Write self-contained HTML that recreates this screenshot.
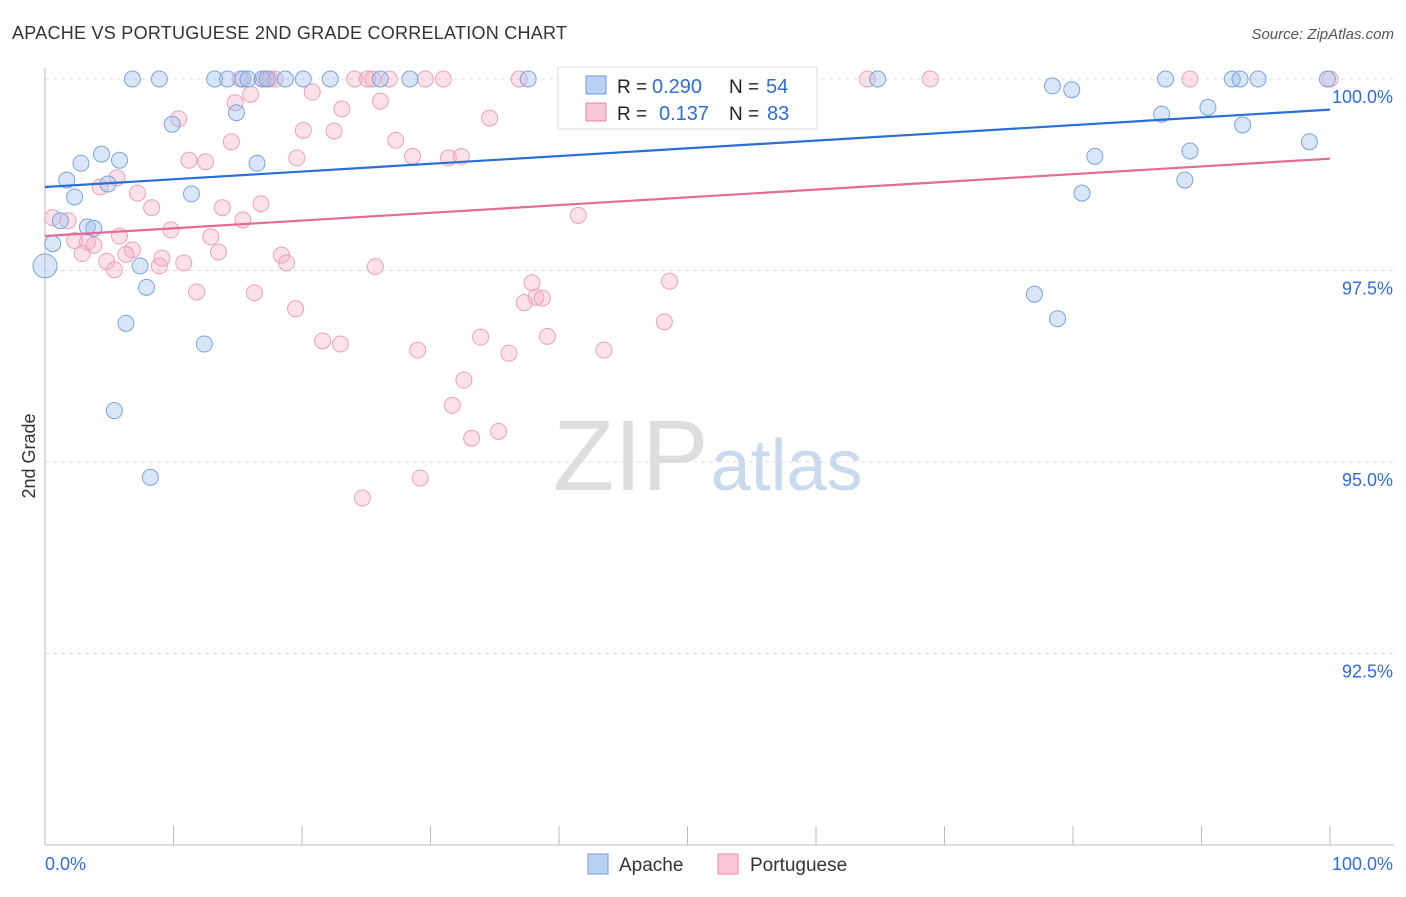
<!DOCTYPE html>
<html><head><meta charset="utf-8">
<style>
body{margin:0;background:#fff;font-family:"Liberation Sans",sans-serif;}
svg text{font-family:"Liberation Sans",sans-serif;}
</style></head>
<body>
<svg id="chart" width="1406" height="892" xmlns="http://www.w3.org/2000/svg">
<text x="12" y="39" font-size="18" fill="#333" textLength="555">APACHE VS PORTUGUESE 2ND GRADE CORRELATION CHART</text>
<text x="1394" y="39" font-size="15" fill="#555" text-anchor="end" font-style="italic">Source: ZipAtlas.com</text>
<text x="35" y="456" font-size="18" fill="#333" transform="rotate(-90 35 456)" text-anchor="middle">2nd Grade</text>
<text x="553" y="490" font-size="100" fill="#ddd" font-family="Liberation Serif">ZIP<tspan fill="#c9d9ee" font-family="Liberation Sans" font-size="72" dx="2">atlas</tspan></text>
<g id="grid"></g><g id="axes"></g><g id="pts"></g><g id="lines"></g>
<g>
<rect x="558" y="67" width="259" height="62" fill="#fff" stroke="#ddd"/>
<rect x="586" y="76" width="20" height="18" fill="#b9d1f3" stroke="#6f9be0"/>
<rect x="586" y="103" width="20" height="18" fill="#f9c6d6" stroke="#e98aa9"/>
<text x="617" y="93" font-size="19" fill="#222">R =</text>
<text x="652" y="93" font-size="20" fill="#2d6ed6">0.290</text>
<text x="729" y="93" font-size="19" fill="#222">N =</text>
<text x="766" y="93" font-size="20" fill="#2d6ed6">54</text>
<text x="617" y="120" font-size="19" fill="#222">R =</text>
<text x="659" y="120" font-size="20" fill="#2d6ed6">0.137</text>
<text x="729" y="120" font-size="19" fill="#222">N =</text>
<text x="767" y="120" font-size="20" fill="#2d6ed6">83</text>
</g>
<g>
<rect x="588" y="854" width="20" height="20" fill="#b9d1f3" stroke="#6f9be0"/>
<text x="619" y="871" font-size="19" fill="#333">Apache</text>
<rect x="718" y="854" width="20" height="20" fill="#f9c6d6" stroke="#e98aa9"/>
<text x="750" y="871" font-size="19" fill="#333">Portuguese</text>
</g>
</svg>
<script>
const yTicks=[100,97.5,95,92.5];
const yTickLabels=["100.0%","97.5%","95.0%","92.5%"];
const xTickLabels=["0.0%","100.0%"];
const apacheX=[6.8,8.9,13.2,14.2,15.4,15.8,16.9,17.3,18.7,20.1,22.2,26.1,28.4,37.6,64.8,87.2,92.4,93.0,94.4,99.8,78.4,79.9,14.9,9.9,86.9,90.5,93.2,98.4,4.4,2.8,5.8,16.5,81.7,89.1,1.7,4.9,2.3,11.4,80.7,88.7,1.2,3.3,3.8,0.6,0,7.4,7.9,6.3,12.4,77.0,78.8,5.4,8.2];
const apacheY=[100,100,100,100,100,100,100,100,100,100,100,100,100,100,100,100,100,100,100,100,99.91,99.86,99.56,99.41,99.54,99.63,99.40,99.18,99.02,98.90,98.94,98.90,98.99,99.06,98.68,98.63,98.46,98.50,98.51,98.68,98.15,98.07,98.05,97.85,97.56,97.56,97.28,96.81,96.54,97.19,96.87,95.67,94.80];
const portX=[15.2,17.1,17.5,17.9,24.1,25.1,25.5,26.8,29.6,31.0,36.9,64.0,68.9,89.1,100,14.8,16.0,20.8,26.1,23.1,10.4,34.6,20.1,22.5,14.5,27.3,11.2,12.5,19.6,28.6,31.4,32.4,4.3,5.6,7.2,8.3,13.8,16.8,0.6,1.8,15.4,41.5,9.8,5.8,12.9,2.3,3.3,3.8,6.8,2.9,6.3,13.5,9.1,4.8,10.8,8.9,18.4,18.8,25.7,5.4,11.8,16.3,37.9,48.6,38.2,38.7,37.3,19.5,21.6,23.0,33.9,39.1,48.2,29.0,36.1,43.5,32.6,31.7,35.3,33.2,29.2,24.7];
const portY=[100,100,100,100,100,100,100,100,100,100,100,100,100,100,100,99.69,99.80,99.83,99.71,99.61,99.48,99.49,99.33,99.32,99.18,99.20,98.94,98.92,98.97,98.99,98.97,98.99,98.59,98.71,98.51,98.32,98.32,98.37,98.19,98.15,98.16,98.22,98.03,97.95,97.94,97.89,97.87,97.83,97.77,97.72,97.71,97.74,97.66,97.62,97.60,97.56,97.70,97.60,97.55,97.51,97.22,97.21,97.34,97.36,97.15,97.14,97.08,97.00,96.58,96.54,96.63,96.64,96.83,96.46,96.42,96.46,96.07,95.74,95.40,95.31,94.79,94.53];
const apacheLine=[98.59,99.60];
const portLine=[97.95,98.96];
const X=v=>45+v*12.85, Y=v=>79+(100-v)*76.6;
const NS="http://www.w3.org/2000/svg";
function mk(tag,attrs,parent){const e=document.createElementNS(NS,tag);for(const k in attrs)e.setAttribute(k,attrs[k]);document.getElementById(parent).appendChild(e);return e;}
yTicks.forEach((t,i)=>{
 const l=mk('line',{x1:45,x2:1394,y1:Y(t),y2:Y(t),stroke:'#ddd','stroke-dasharray':'4 4'},'grid');
 
 
 const tx=mk('text',{x:1393,y:Y(t)+24,'font-size':18,fill:'#2d6ed6','text-anchor':'end'},'grid');
 tx.textContent=yTickLabels[i];
 
 
});
mk('line',{x1:45,x2:45,y1:68,y2:845,stroke:'#bbb'},'axes');
mk('line',{x1:45,x2:1394,y1:845,y2:845,stroke:'#bbb'},'axes');
for(let i=0;i<=10;i++){mk('line',{x1:X(i*10),x2:X(i*10),y1:826,y2:845,stroke:'#bbb'},'axes');}
xTickLabels.forEach((s,i)=>{const t=mk('text',{x:i?1393:45,y:870,'font-size':18,fill:'#2d6ed6','text-anchor':i?'end':'start'},'axes');t.textContent=s;
 
 });
portX.forEach((x,i)=>{const c=mk('circle',{cx:X(x),cy:Y(portY[i]),r:8,fill:'rgba(246,170,196,0.35)',stroke:'#eba0ba','stroke-width':1},'pts');
 
 });
apacheX.forEach((x,i)=>{const c=mk('circle',{cx:X(x),cy:Y(apacheY[i]),r:(x===0?12:8),fill:'rgba(160,192,238,0.4)',stroke:'#7aa3e0','stroke-width':1},'pts');
 
 });
const bl=mk('line',{x1:X(0),x2:X(100),y1:Y(apacheLine[0]),y2:Y(apacheLine[1]),stroke:'#2a6fd6','stroke-width':2.2},'lines');


const pl=mk('line',{x1:X(0),x2:X(100),y1:Y(portLine[0]),y2:Y(portLine[1]),stroke:'#e56b96','stroke-width':2.2},'lines');


</script>
</body></html>
